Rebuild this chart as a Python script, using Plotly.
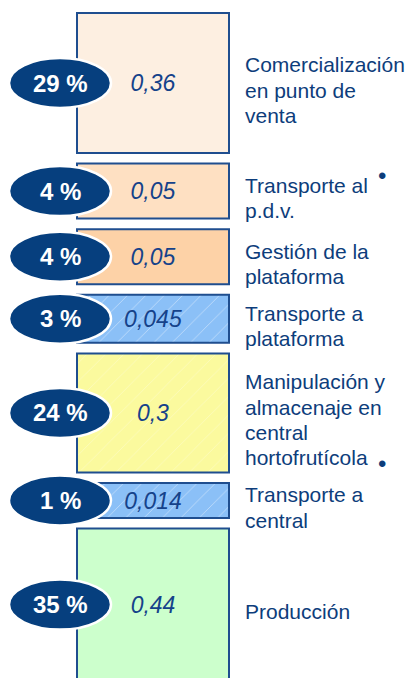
import numpy as np
import plotly.graph_objects as go

# etapas de la cadena, de arriba abajo
etapas = [
    "Comercialización<br>en punto de<br>venta",
    "Transporte al<br>p.d.v.",
    "Gestión de la<br>plataforma",
    "Transporte a<br>plataforma",
    "Manipulación y<br>almacenaje en<br>central<br>hortofrutícola",
    "Transporte a<br>central",
    "Producción",
]
costes = [0.36, 0.05, 0.05, 0.045, 0.3, 0.014, 0.44]
porcentajes = [29, 4, 4, 3, 24, 1, 35]

# esquema: alto de cada caja (no proporcional al coste en las pequeñas)
alto_caja = [140, 55, 55, 48, 119, 35, 152]
HUECO = 10.6
TOPE = 13
INTERLINEA = 25.3

rellenos = ["#FDEFE1", "#FEE0C2", "#FDD2A7", "#8BC0F7", "#FBFA9E", "#8BC0F7", "#CCFFCC"]
tramas = ["", "", "", "/", "/", "/", ""]
opac_trama = [0, 0, 0, 0.5, 0.35, 0.5, 0]

AZUL = "#0D3D7B"
MARINO = "#063F7E"
FUENTE = "Liberation Sans, Arial, sans-serif"

alto = np.array(alto_caja, dtype=float)
bases = TOPE + np.concatenate([[0], np.cumsum(alto + HUECO)[:-1]])
centros = bases + alto / 2
X_CAJA = 153

fig = go.Figure()
for i in range(len(costes)):
    fig.add_trace(go.Bar(
        x=[X_CAJA],
        y=[alto[i]],
        base=[bases[i]],
        width=152,
        marker=dict(
            color=rellenos[i],
            line=dict(color="#1F4E8F", width=2),
            pattern=dict(shape=tramas[i], fillmode="overlay", fgcolor="white",
                         fgopacity=opac_trama[i], size=13, solidity=0.06),
        ),
        text=[f"{costes[i]:g}".replace(".", ",")],
        textposition="inside",
        insidetextanchor="middle",
        constraintext="none",
        textangle=0,
        textfont=dict(family=FUENTE, size=23, color="#15428A", style="italic"),
        hoverinfo="skip",
    ))

for c, p, e in zip(centros, porcentajes, etapas):
    fig.add_shape(type="circle", xref="x", yref="y", x0=9, x1=111, y0=c - 25, y1=c + 25,
                  fillcolor=MARINO, line=dict(color="white", width=2.5), layer="above")
    fig.add_annotation(x=60, y=c, text=f"<b>{p} %</b>", showarrow=False,
                       font=dict(family=FUENTE, size=24, color="white"))
    lineas = e.split("<br>")
    for j, linea in enumerate(lineas):
        fig.add_annotation(x=243, y=c + 7 + (j - (len(lineas) - 1) / 2) * INTERLINEA,
                           text=linea, showarrow=False, xanchor="left",
                           font=dict(family=FUENTE, size=21, color=AZUL))

# viñetas del texto recortado de la diapositiva
for yb in [175, 463]:
    fig.add_annotation(x=382, y=yb, text="•", showarrow=False,
                       font=dict(family=FUENTE, size=24, color=AZUL))

fig.update_xaxes(range=[0, 411], visible=False)
fig.update_yaxes(range=[678, 0], visible=False)
fig.update_layout(
    width=411, height=678,
    margin=dict(l=0, r=0, t=0, b=0),
    barmode="overlay",
    plot_bgcolor="white", paper_bgcolor="white",
    showlegend=False, hovermode=False,
)
fig.write_html("out.html", config={"displayModeBar": False},
               post_script="document.body.style.margin='0';")
